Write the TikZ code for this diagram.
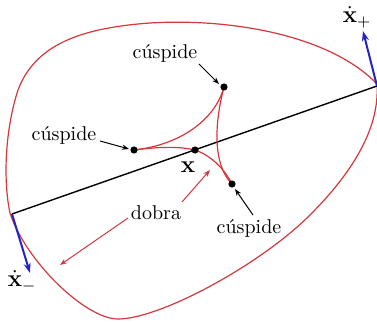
\documentclass[tikz,border=0pt]{standalone}
\usetikzlibrary{arrows.meta}
\definecolor{cred}{RGB}{212,55,60}
\definecolor{cblue}{RGB}{35,35,200}
\begin{document}
\begin{tikzpicture}[x=0.5pt,y=-0.5pt,
  outline/.style={cred,line width=0.6pt},
  fold/.style={cred,line width=0.6pt},
  axis/.style={black,line width=0.7pt},
  vel/.style={cblue,line width=1pt,-{Stealth[length=5pt,width=3.5pt]}},
  pointer/.style={black,line width=0.5pt,-{Stealth[length=3.5pt,width=2.6pt]}},
  rpointer/.style={cred,line width=0.5pt,-{Stealth[length=3.5pt,width=2.6pt]}},
  dot/.style={circle,fill=black,inner sep=0pt,minimum size=3.6pt},
  lbl/.style={inner sep=0pt,font=\normalsize},
  vlbl/.style={inner sep=0pt,font=\large}]
\useasboundingbox (0,0) rectangle (377,322);
% outer curve
\draw[outline] (377,84) .. controls (330,35) and (230,18) .. (150,23)
  .. controls (80,28) and (35,45) .. (18,90)
  .. controls (5,130) and (3,180) .. (10,213)
  .. controls (25,260) and (85,319) .. (118,319)
  .. controls (160,319) and (260,265) .. (310,215)
  .. controls (350,175) and (380,130) .. cycle;
% key points
\coordinate (Lm) at (12,214);
\coordinate (Rp) at (377,86);
\coordinate (X) at (195,150);
\coordinate (L) at (134,150);
\coordinate (T) at (224,87);
\coordinate (B) at (232,184);
% line
\draw[axis] (Lm) -- (Rp);
% deltoid
\draw[fold] (L) .. controls (180,145) and (215,120) .. (T);
\draw[fold] (T) .. controls (214,125) and (213,165) .. (B);
\draw[fold] (L) .. controls (165,146) and (182,147) .. (X) .. controls (210,155) and (224,168) .. (B);
\node[dot] (dL) at (L) {};
\node[dot] (dT) at (T) {};
\node[dot] (dB) at (B) {};
\node[dot] (dX) at (X) {};
% velocities
\coordinate (vm) at (30,273);
\coordinate (vp) at (363,31);
\draw[vel] (Lm) -- (vm);
\draw[vel] (Rp) -- (vp);
\node[vlbl] (xm) at (22,281) {$\dot{\mathbf{x}}_{-}$};
\node[vlbl] (xp) at (357,17) {$\dot{\mathbf{x}}_{+}$};
\node[vlbl] (xl) at (188,167) {$\mathbf{x}$};
% labels
\node[lbl] (c1) at (165,53) {cúspide};
\node[lbl] (c2) at (64,135) {cúspide};
\node[lbl] (c3) at (249,228) {cúspide};
\node[lbl] (db) at (156,213) {dobra};
\coordinate (a1) at (199,64);
\coordinate (a1e) at (219,84);
\coordinate (a2) at (100,141);
\coordinate (a2e) at (129,149);
\coordinate (a3) at (253,215);
\coordinate (a3e) at (235,189);
\draw[pointer] (a1) -- (a1e);
\draw[pointer] (a2) -- (a2e);
\draw[pointer] (a3) -- (a3e);
\coordinate (r1) at (182,202);
\coordinate (r1e) at (210,170);
\coordinate (r2) at (128,218);
\coordinate (r2e) at (60,265);
\draw[rpointer] (r1) -- (r1e);
\draw[rpointer] (r2) -- (r2e);
\end{tikzpicture}
\end{document}
